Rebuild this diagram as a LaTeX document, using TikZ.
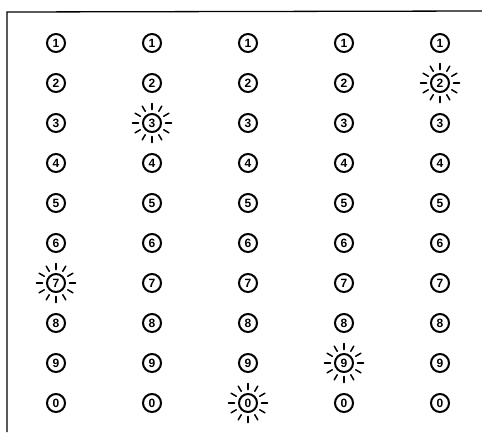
\documentclass[tikz,border=0pt]{standalone}
\usepackage{fontspec}
\setmainfont{Liberation Sans}
\begin{document}
\begin{tikzpicture}[x=1pt,y=-1pt,
  lamp/.style={circle,draw,line width=2pt,minimum size=18pt,inner sep=0pt,
    font=\fontsize{12}{12}\selectfont\bfseries},
  ray/.style={line width=1.5pt,line cap=round}]
\useasboundingbox (0,0) rectangle (482,432);
\draw[line width=1.3pt] (7,432) -- (7,12) -- (482,11);
\foreach \c [count=\i] in {56,152,248,344,440}{
  \foreach \d [count=\j] in {1,2,3,4,5,6,7,8,9,0}{
    \node[lamp] (L\i-\j) at (\c,{3+40*\j}) {\d};
  }
}
\foreach \n in {L5-2,L2-3,L1-7,L4-9,L3-10}{
  \foreach \a in {0,30,...,330}{
    \draw[ray] (\n.center) ++(\a:13.5) -- ++(\a:6);
  }
}
\end{tikzpicture}
\end{document}
